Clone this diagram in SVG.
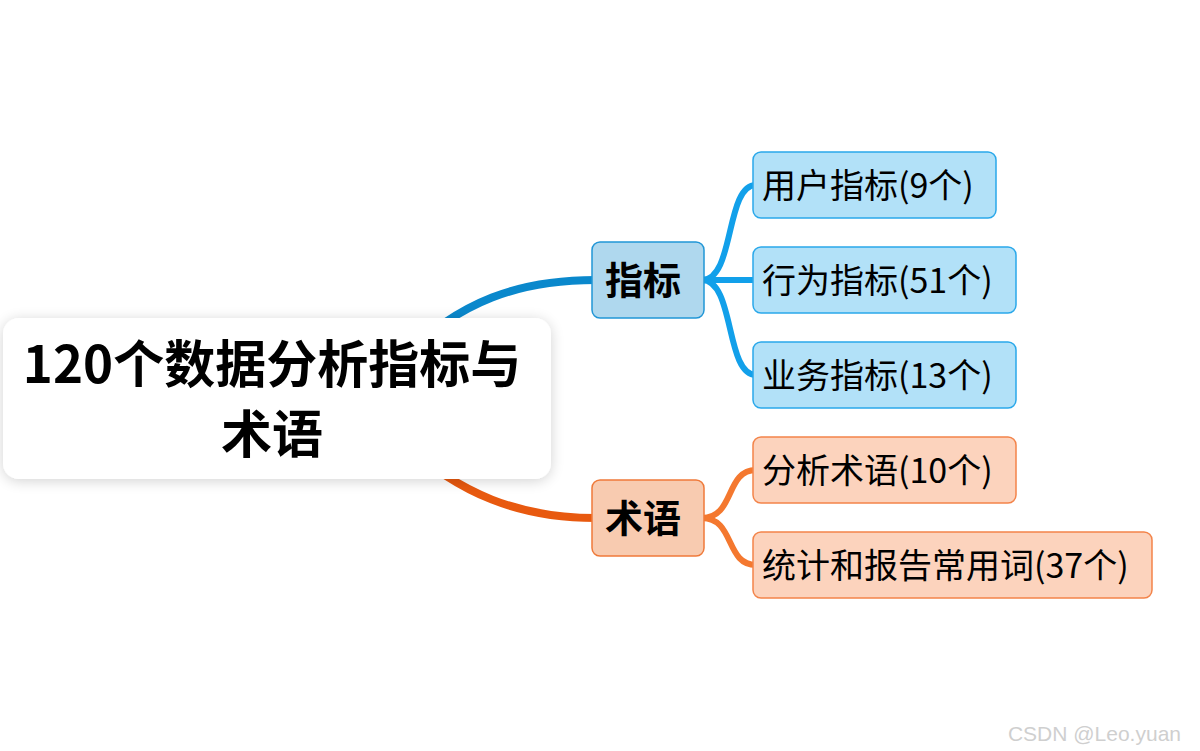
<svg xmlns="http://www.w3.org/2000/svg" width="1200" height="751" viewBox="0 0 1200 751">
<defs>
<filter id="shadow" x="-10%" y="-20%" width="120%" height="140%">
<feGaussianBlur in="SourceAlpha" stdDeviation="7"/>
<feOffset dx="0" dy="2"/>
<feComponentTransfer><feFuncA type="linear" slope="0.18"/></feComponentTransfer>
<feMerge><feMergeNode/><feMergeNode in="SourceGraphic"/></feMerge>
</filter>
<style>
text{font-family:"Noto Sans CJK SC","Noto Sans",sans-serif;fill:#000}
.title{font-size:51px;font-weight:bold;text-anchor:middle}
.main{font-size:38px;font-weight:bold;text-anchor:middle}
.leaf{font-size:34px}
.blueMain{fill:#afd8ee;stroke:#2196d6;stroke-width:1.5}
.orangeMain{fill:#f8cbb0;stroke:#ef7a3a;stroke-width:1.5}
.blueLeaf{fill:#b2e1f8;stroke:#2aa8ea;stroke-width:1.5}
.orangeLeaf{fill:#fcd3bd;stroke:#f3844a;stroke-width:1.5}
.cb{fill:none;stroke:#0a88cc;stroke-width:8;stroke-linecap:round}
.co{fill:none;stroke:#e8590f;stroke-width:8;stroke-linecap:round}
.bb{fill:none;stroke:#12a0ea;stroke-width:6;stroke-linecap:round}
.bo{fill:none;stroke:#f4782f;stroke-width:6;stroke-linecap:round}
</style>
</defs>
<rect width="1200" height="751" fill="#ffffff"/>
<g id="connectors">
<path class="cb" d="M 400 360 C 460 300, 520 280, 596 280"/>
<path class="co" d="M 400 440 C 460 495, 520 518, 596 518"/>
<path class="bb" d="M 702 280 C 735 280, 725 185, 756 185"/>
<path class="bb" d="M 702 280 L 756 280"/>
<path class="bb" d="M 702 280 C 735 280, 725 375, 756 375"/>
<path class="bo" d="M 702 518 C 735 518, 725 470, 756 470"/>
<path class="bo" d="M 702 518 C 735 518, 725 565, 756 565"/>
</g>
<g id="root">
<rect x="3" y="318" width="548" height="161" rx="16" fill="#ffffff" filter="url(#shadow)"/>
<text class="title" x="272" y="383">120个数据分析指标与</text>
<text class="title" x="272" y="453">术语</text>
</g>
<g id="zhibiao">
<rect class="blueMain" x="592" y="242" width="112" height="76" rx="8"/>
<text class="main" x="643" y="294">指标</text>
</g>
<g id="shuyu">
<rect class="orangeMain" x="592" y="480" width="112" height="76" rx="8"/>
<text class="main" x="643" y="532">术语</text>
</g>
<g id="yonghu">
<rect class="blueLeaf" x="753" y="152" width="243" height="66" rx="8"/>
<text class="leaf" x="762" y="198">用户指标(9个)</text>
</g>
<g id="xingwei">
<rect class="blueLeaf" x="753" y="247" width="263" height="66" rx="8"/>
<text class="leaf" x="762" y="293">行为指标(51个)</text>
</g>
<g id="yewu">
<rect class="blueLeaf" x="753" y="342" width="263" height="66" rx="8"/>
<text class="leaf" x="762" y="388">业务指标(13个)</text>
</g>
<g id="fenxi">
<rect class="orangeLeaf" x="753" y="437" width="263" height="66" rx="8"/>
<text class="leaf" x="762" y="483">分析术语(10个)</text>
</g>
<g id="tongji">
<rect class="orangeLeaf" x="753" y="532" width="399" height="66" rx="8"/>
<text class="leaf" x="762" y="578">统计和报告常用词(37个)</text>
</g>
<text x="1181" y="741" style="font-family:'Liberation Sans',Arial,sans-serif;font-size:21px;fill:#cfcfcf;text-anchor:end">CSDN @Leo.yuan</text>
</svg>
